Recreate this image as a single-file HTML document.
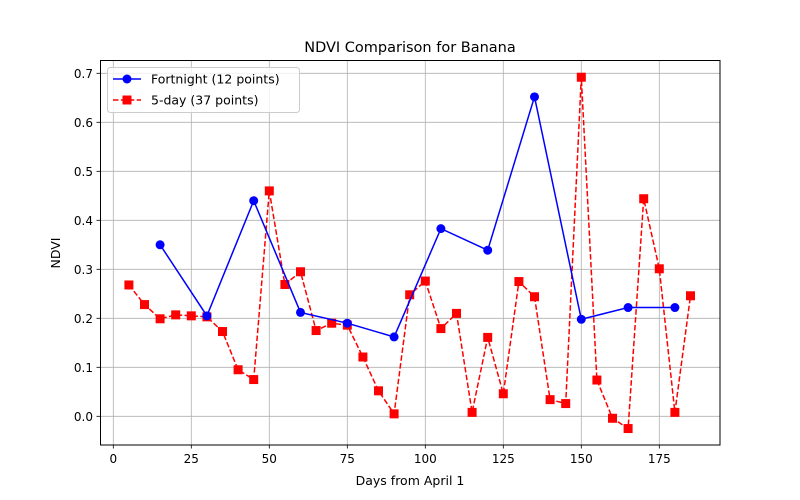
<!DOCTYPE html>
<html><head><meta charset="utf-8"><style>
body{margin:0;background:#fff;}
svg{font-family:"DejaVu Sans","Liberation Sans",sans-serif;display:block}
</style></head><body>
<svg id="chart" width="800" height="500" viewBox="0 0 800 500" xmlns="http://www.w3.org/2000/svg">
<rect width="800" height="500" fill="#fff"/>
<g id="grid"></g>
<g id="series"></g>
<rect x="100.5" y="60.5" width="619.5" height="384.5" fill="none" stroke="#000" stroke-width="1"/>
<g id="ticks"></g>
<text x="410" y="52" text-anchor="middle" font-size="14.5">NDVI Comparison for Banana</text>
<text x="410" y="485" text-anchor="middle" font-size="12.5">Days from April 1</text>
<text transform="translate(60,253) rotate(-90)" text-anchor="middle" font-size="12.5">NDVI</text>
<g>
<rect x="107.5" y="67.5" width="192" height="45" rx="3" fill="#fff" fill-opacity="0.8" stroke="#ccc"/>
<line x1="113" y1="79" x2="141" y2="79" stroke="#0000ff" stroke-width="1.5"/>
<circle cx="127" cy="79" r="4.5" fill="#0000ff"/>
<text x="151" y="83.5" font-size="12.5">Fortnight (12 points)</text>
<line x1="113" y1="100" x2="141" y2="100" stroke="#ff0000" stroke-width="1.5" stroke-dasharray="5.5,2.4"/>
<rect x="122.5" y="95.5" width="9" height="9" fill="#ff0000"/>
<text x="151" y="104.5" font-size="12.5">5-day (37 points)</text>
</g>
</svg>
<script>
const fortDays=[15,30,45,60,75,90,105,120,135,150,165,180];
const fortVals=[0.35,0.205,0.44,0.212,0.19,0.162,0.383,0.339,0.652,0.198,0.222,0.222];
const fiveDays=[5,10,15,20,25,30,35,40,45,50,55,60,65,70,75,80,85,90,95,100,105,110,115,120,125,130,135,140,145,150,155,160,165,170,175,180,185];
const fiveVals=[0.268,0.228,0.199,0.207,0.205,0.203,0.173,0.095,0.075,0.46,0.269,0.295,0.175,0.19,0.186,0.121,0.052,0.005,0.248,0.276,0.179,0.21,0.008,0.161,0.046,0.275,0.244,0.034,0.026,0.692,0.074,-0.004,-0.025,0.444,0.301,0.008,0.246];
const xTicks=[0,25,50,75,100,125,150,175];
const yTicks=[0.0,0.1,0.2,0.3,0.4,0.5,0.6,0.7];
const NS="http://www.w3.org/2000/svg";
const X=d=>113.3+d*3.12;
const Y=v=>416.3-v*490;
function mk(tag,attrs,parent){const e=document.createElementNS(NS,tag);for(const k in attrs)e.setAttribute(k,attrs[k]);parent.appendChild(e);return e;}
const grid=document.getElementById('grid'),ticks=document.getElementById('ticks'),series=document.getElementById('series');
xTicks.forEach(t=>{
 const gl=mk('line',{x1:X(t),x2:X(t),y1:60,y2:445,stroke:'#b0b0b0','stroke-width':0.8},grid);
 
 
 mk('line',{x1:X(t),x2:X(t),y1:445,y2:448.5,stroke:'#000','stroke-width':0.8},ticks);
 const tx=mk('text',{x:X(t),y:463,'text-anchor':'middle','font-size':12},ticks);
 tx.textContent=String(t);
 
 
});
yTicks.forEach(t=>{
 const gl=mk('line',{x1:100,x2:720,y1:Y(t),y2:Y(t),stroke:'#b0b0b0','stroke-width':0.8},grid);
 
 
 mk('line',{x1:96.5,x2:100,y1:Y(t),y2:Y(t),stroke:'#000','stroke-width':0.8},ticks);
 const tx=mk('text',{x:93,y:Y(t)+4.5,'text-anchor':'end','font-size':12},ticks);
 tx.textContent=t.toFixed(1);
 
 
});
const fivePts=fiveDays.map((d,i)=>X(d)+','+Y(fiveVals[i])).join(' ');
const l5=mk('polyline',{points:fivePts,fill:'none',stroke:'#ff0000','stroke-width':1.5,'stroke-dasharray':'5.5,2.4'},series);


fiveDays.forEach((d,i)=>{
 const r=mk('rect',{x:X(d)-4.5,y:Y(fiveVals[i])-4.5,width:9,height:9,fill:'#ff0000'},series);
 
 
});
const fPts=fortDays.map((d,i)=>X(d)+','+Y(fortVals[i])).join(' ');
const lf=mk('polyline',{points:fPts,fill:'none',stroke:'#0000ff','stroke-width':1.5},series);


fortDays.forEach((d,i)=>{
 const c=mk('circle',{cx:X(d),cy:Y(fortVals[i]),r:4.5,fill:'#0000ff'},series);
 
 
});
</script>
</body></html>
